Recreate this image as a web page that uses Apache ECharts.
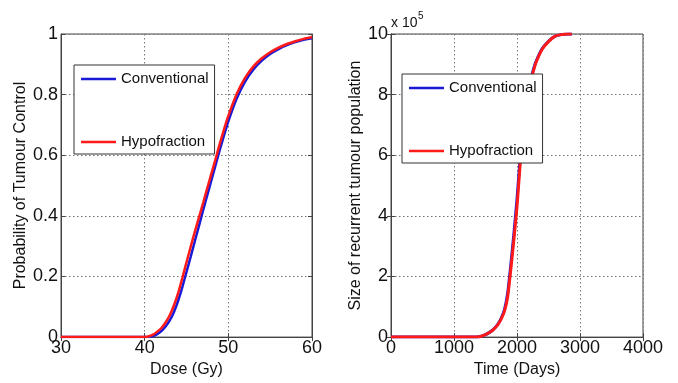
<!DOCTYPE html>
<html>
<head>
<meta charset="utf-8">
<script src="https://cdn.jsdelivr.net/npm/echarts@6/dist/echarts.min.js"></script>
<style>
html,body{margin:0;padding:0;background:#fff;}
#c{width:678px;height:383px;}
</style>
</head>
<body>
<div id="c"></div>
<script>
// ---- Left panel: Probability of Tumour Control vs Dose (Gy)
const dose = [30, 34, 38, 40, 40.5, 41, 41.5, 42, 42.5, 43, 43.5, 44, 44.5, 45, 45.5, 46, 46.5, 47, 47.5, 48, 48.5, 49, 49.5, 50, 51, 52, 53, 54, 55, 56, 57, 58, 59, 60];
const tcpConventional = [0, 0, 0, 0, 0, 0.003, 0.01, 0.02, 0.035, 0.055, 0.083, 0.12, 0.165, 0.215, 0.265, 0.317, 0.368, 0.42, 0.47, 0.52, 0.57, 0.62, 0.667, 0.712, 0.787, 0.843, 0.883, 0.912, 0.934, 0.95, 0.963, 0.973, 0.981, 0.986];
const tcpHypofraction = [0, 0, 0, 0, 0.003, 0.008, 0.018, 0.03, 0.048, 0.072, 0.105, 0.145, 0.195, 0.247, 0.298, 0.348, 0.396, 0.444, 0.493, 0.542, 0.59, 0.64, 0.687, 0.73, 0.802, 0.855, 0.893, 0.92, 0.94, 0.955, 0.967, 0.976, 0.984, 0.99];

// ---- Right panel: Size of recurrent tumour population (x 10^5) vs Time (Days)
const days = [0, 500, 1000, 1300, 1400, 1450, 1500, 1550, 1600, 1650, 1700, 1750, 1800, 1850, 1900, 1950, 2000, 2050, 2100, 2150, 2200, 2250, 2300, 2400, 2500, 2600, 2700, 2800, 2870];
const popConventional = [0, 0, 0, 0, 0.01, 0.04, 0.08, 0.14, 0.21, 0.31, 0.44, 0.63, 0.9, 1.42, 2.35, 3.4, 4.55, 5.9, 7.0, 7.85, 8.35, 8.75, 9.08, 9.52, 9.76, 9.92, 9.98, 10, 10];
const popHypofraction = [0, 0, 0, 0, 0.01, 0.04, 0.08, 0.14, 0.2, 0.3, 0.42, 0.6, 0.85, 1.3, 2.2, 3.2, 4.3, 5.7, 6.9, 7.8, 8.3, 8.7, 9.05, 9.5, 9.75, 9.92, 9.98, 10, 10];

const seriesNames = ['Conventional', 'Hypofraction'];
const yTicksRightUnit = 'x 10';
const yTicksRightExp = '5';

const FONT = 'Liberation Sans, Arial, sans-serif';
const AX = '#444';
const zip = (xs, ys) => xs.map((x, i) => [x, ys[i]]);
const plain = v => String(v);

function mainX(gi, min, max, interval, name) {
  return {
    type: 'value', gridIndex: gi, min, max, interval, position: 'bottom',
    name, nameLocation: 'middle', nameGap: 20,
    nameTextStyle: {fontFamily: FONT, fontSize: 16, color: '#111'},
    axisLine: {show: true, lineStyle: {color: AX, width: 1}},
    axisTick: {show: true, inside: true, length: 4, lineStyle: {color: AX}},
    axisLabel: {fontFamily: FONT, fontSize: 18, color: '#111', margin: 2, formatter: plain},
    splitLine: {show: true, lineStyle: {color: '#777', type: [1.5, 2.5], width: 1}}
  };
}
function mainY(gi, min, max, interval, name, gap) {
  return {
    type: 'value', gridIndex: gi, min, max, interval, position: 'left',
    name, nameLocation: 'middle', nameGap: gap,
    nameTextStyle: {fontFamily: FONT, fontSize: 16, color: '#111'},
    axisLine: {show: true, lineStyle: {color: AX, width: 1}},
    axisTick: {show: true, inside: true, length: 4, lineStyle: {color: AX}},
    axisLabel: {fontFamily: FONT, fontSize: 18, color: '#111', margin: 3, formatter: plain},
    splitLine: {show: true, lineStyle: {color: '#777', type: [1.5, 2.5], width: 1}}
  };
}
function mirror(gi, min, max, interval, pos) {
  return {
    type: 'value', gridIndex: gi, min, max, interval, position: pos,
    axisLine: {show: true, lineStyle: {color: AX, width: 1}},
    axisTick: {show: true, inside: true, length: 4, lineStyle: {color: AX}},
    axisLabel: {show: false}, splitLine: {show: false}
  };
}
function lineSeries(name, xi, yi, data, color, width) {
  return {
    type: 'line', name, xAxisIndex: xi, yAxisIndex: yi, data,
    showSymbol: false, symbol: 'none', smooth: 0.15,
    lineStyle: {color, width}, itemStyle: {color}
  };
}
const legendBase = {
  orient: 'vertical', data: seriesNames, icon: 'rect', itemWidth: 35, itemHeight: 2.5, itemGap: 45,
  padding: [5, 6, 3, 7], backgroundColor: '#fff', borderColor: '#333', borderWidth: 1,
  textStyle: {fontFamily: FONT, fontSize: 15, lineHeight: 18, color: '#111'}, selectedMode: false
};

const chart = echarts.init(document.getElementById('c'), null, {renderer: 'canvas'});
chart.setOption({
  animation: false,
  backgroundColor: '#fff',
  grid: [
    {left: 61, top: 34, width: 251, height: 311, show: true, borderColor: AX, borderWidth: 1, backgroundColor: '#fff'},
    {left: 391, top: 34, width: 252, height: 311, show: true, borderColor: AX, borderWidth: 1, backgroundColor: '#fff'}
  ],
  xAxis: [
    mainX(0, 30, 60, 10, 'Dose (Gy)'),
    mirror(0, 30, 60, 10, 'top'),
    mainX(1, 0, 4000, 1000, 'Time (Days)'),
    mirror(1, 0, 4000, 1000, 'top')
  ],
  yAxis: [
    mainY(0, 0, 1, 0.2, 'Probability of Tumour Control', 31),
    mirror(0, 0, 1, 0.2, 'right'),
    mainY(1, 0, 10, 2, 'Size of recurrent tumour population', 27),
    mirror(1, 0, 10, 2, 'right')
  ],
  legend: [
    Object.assign({}, legendBase, {left: 74, top: 65}),
    Object.assign({}, legendBase, {left: 402, top: 74})
  ],
  graphic: [
    {type: 'text', left: 391, top: 16, style: {text: yTicksRightUnit, font: '14px ' + FONT, fill: '#111'}},
    {type: 'text', left: 418, top: 11, style: {text: yTicksRightExp, font: '10px ' + FONT, fill: '#111'}}
  ],
  series: [
    lineSeries(seriesNames[0], 0, 0, zip(dose, tcpConventional), '#1a1ad6', 2.5),
    lineSeries(seriesNames[1], 0, 0, zip(dose, tcpHypofraction), '#ff1a1a', 2.5),
    lineSeries(seriesNames[0], 2, 2, zip(days, popConventional), '#1a1ad6', 3),
    lineSeries(seriesNames[1], 2, 2, zip(days, popHypofraction), '#ff1a1a', 3)
  ]
});
</script>
</body>
</html>
